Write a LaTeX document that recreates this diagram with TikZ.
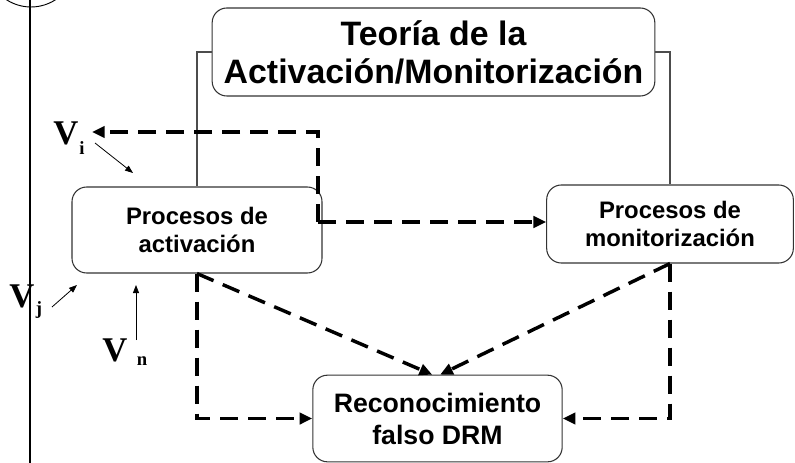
\documentclass[tikz,border=0pt]{standalone}
\usepackage{fontspec}
\setmainfont{Liberation Sans}
\newfontfamily\vfont{Liberation Serif}
\usetikzlibrary{arrows.meta}
\begin{document}
\begin{tikzpicture}[x=0.75pt,y=-0.75pt,
  box/.style={draw=black!80,line width=0.8pt,rounded corners=11pt,align=center,inner sep=0pt},
  dline/.style={line width=2.6pt,dash pattern=on 13.5pt off 7.5pt,-{Triangle[length=9.5pt,width=8.5pt]}},
  thin/.style={draw=black!70,line width=0.8pt},
  tarrow/.style={line width=0.6pt,-{Triangle[length=6pt,width=4.5pt]}},
  vlab/.style={font=\vfont\bfseries\fontsize{26pt}{26pt}\selectfont,inner sep=0pt},
  vsub/.style={font=\vfont\bfseries\fontsize{14pt}{14pt}\selectfont,inner sep=0pt}]
\useasboundingbox (0,0) rectangle (795,463);
\clip (0,0) rectangle (795,463);
% left vertical line and circle
\draw[line width=1.6pt] (30,0) -- (30,120);
\draw[line width=0.8pt] (30,120) -- (30,463);
\draw[line width=0.7pt] (31,-38) circle [radius=33.75pt];
% boxes
\node[box,minimum width=332pt,minimum height=66pt,font=\bfseries\fontsize{25.4pt}{28.5pt}\selectfont] (title) at (433.5,52) {Teoría de la\\Activación/Monitorización};
\node[box,minimum width=187.5pt,minimum height=64.5pt,font=\bfseries\fontsize{17.9pt}{21pt}\selectfont] (act) at (197,230) {Procesos de\\activación};
\node[box,minimum width=185pt,minimum height=58.5pt,font=\bfseries\fontsize{17.9pt}{21pt}\selectfont] (mon) at (670,224) {Procesos de\\monitorización};
\node[box,minimum width=187pt,minimum height=65pt,font=\bfseries\fontsize{20pt}{24pt}\selectfont] (rec) at (437.5,418.5) {Reconocimiento\\falso DRM};
% thin connectors from the title
\draw[thin] (title.west) -| (act.north);
\draw[thin] (title.east) -| (mon.north);
% V labels
\node[vlab] (vi) at (66,133) {V};
\node[vsub] (vis) at (82,148) {i};
\node[vlab] (vj) at (22,296) {V};
\node[vsub] (vjs) at (39,310) {j};
\node[vlab] (vn) at (115,350) {V};
\node[vsub] (vns) at (142,361) {n};
\coordinate (vitip) at (92,132);
\coordinate (a1s) at (95,143);
\coordinate (a1e) at (133,173);
\coordinate (a2s) at (52,307);
\coordinate (a2e) at (77,285);
\coordinate (a3s) at (136,340);
\coordinate (a3e) at (136,285);
\draw[tarrow] (a1s) -- (a1e);
\draw[tarrow] (a2s) -- (a2e);
\draw[tarrow] (a3s) -- (a3e);
% dashed connectors
\coordinate (j1) at (318,222);
\coordinate (j2) at (318,132);
\draw[dline] (j1) -- (j2) -- (vitip);
\draw[dline] (j1) -- (j1 -| mon.west);
\draw[dline] (act.south) -- ([xshift=-4pt]rec.north);
\draw[dline] (mon.south) -- ([xshift=2pt]rec.north);
\draw[dline] (act.south) |- (rec.west);
\draw[dline] (mon.south) |- (rec.east);
\end{tikzpicture}
\end{document}
